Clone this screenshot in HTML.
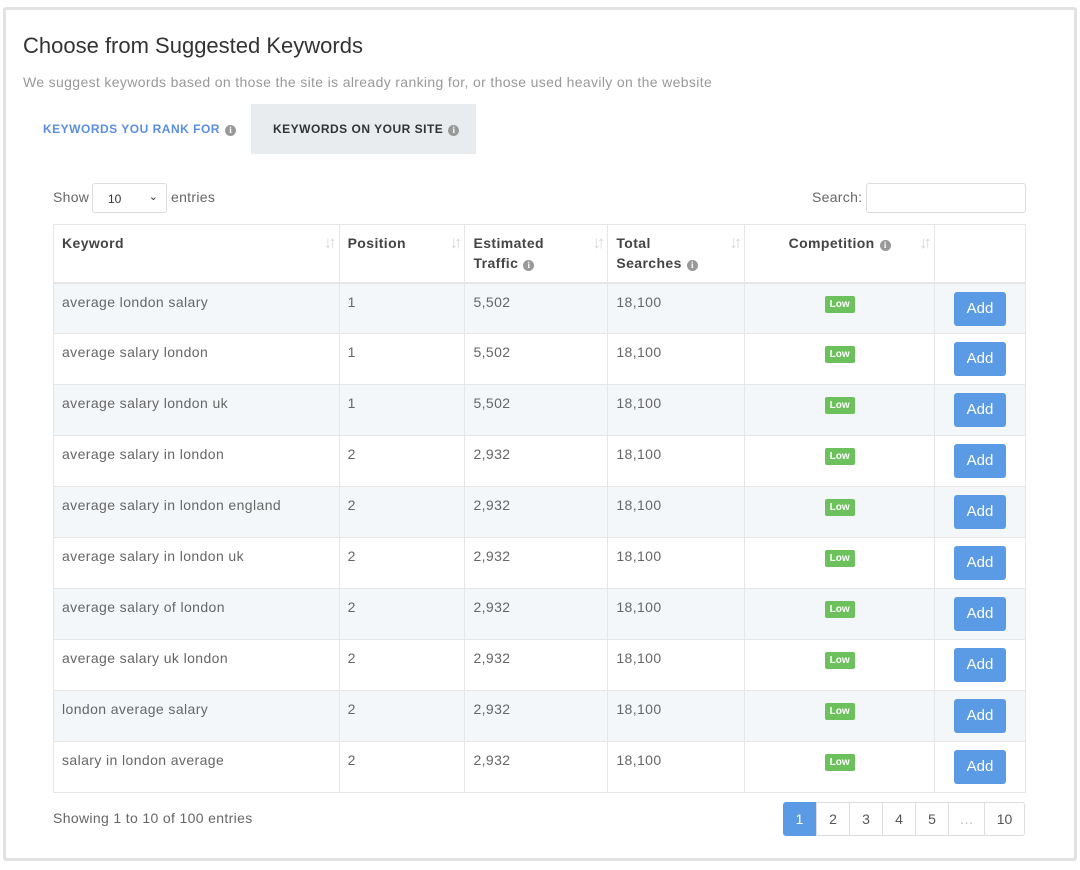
<!DOCTYPE html>
<html><head><meta charset="utf-8"><style>
*{box-sizing:border-box;margin:0;padding:0}
body{width:1080px;height:870px;background:#fff;font-family:"Liberation Sans",Arial,sans-serif;color:#555;position:relative;overflow:hidden}
.card{position:absolute;left:3px;top:7px;width:1074px;height:854px;border:3px solid #e2e2e2;border-radius:3px}
.abs{position:absolute;white-space:nowrap}
.info{display:inline-block;width:11px;height:11px;border-radius:50%;background:#999;color:#fff;font-size:9px;line-height:11px;text-align:center;font-weight:bold;vertical-align:0px;margin-left:5px;font-family:"Liberation Serif",serif;letter-spacing:0}
table{position:absolute;left:53px;top:224px;border-collapse:collapse;width:973px;font-size:14px;letter-spacing:0.4px}
td,th{border:1px solid #e6e6e6;text-align:left;vertical-align:top;padding:0 8px}
th{height:58px;padding-top:8px;font-weight:bold;color:#444;position:relative;line-height:20px;border-bottom:2px solid #e6e6e6}
td{height:51px;padding-top:10px;color:#666}
tr:nth-child(even) td{background:#f4f7fa}
.s{position:absolute;right:6px;top:8px;color:#d8d8d8;font-size:17px;font-weight:bold;letter-spacing:-4px}
.low{display:inline-block;background:#6cc15c;color:#fff;font-size:10px;font-weight:bold;padding:2px 5px;border-radius:2px;line-height:13px;letter-spacing:0}
.add{display:inline-block;background:#5b9be6;color:#fff;width:52px;height:34px;line-height:34px;text-align:center;border-radius:3px;font-size:15px;margin-top:-2px;letter-spacing:0}
.pg{position:absolute;top:802px;height:34px;border:1px solid #ddd;text-align:center;line-height:32px;font-size:14px;color:#555;margin-left:-1px}
</style></head><body>
<div class="card"></div>
<div class="abs" style="left:23px;top:33px;font-size:22px;color:#333">Choose from Suggested Keywords</div>
<div class="abs" style="left:23px;top:74px;font-size:14px;color:#999;letter-spacing:0.35px">We suggest keywords based on those the site is already ranking for, or those used heavily on the website</div>
<div class="abs" style="left:251px;top:104px;width:225px;height:50px;background:#e9ecef"></div>
<div class="abs" style="left:43px;top:122px;font-size:12px;font-weight:bold;color:#5b8fe0;letter-spacing:0.5px">KEYWORDS YOU RANK FOR<span class="info" style="background:#999">i</span></div>
<div class="abs" style="left:273px;top:122px;font-size:12px;font-weight:bold;color:#333;letter-spacing:0.5px">KEYWORDS ON YOUR SITE<span class="info">i</span></div>
<div class="abs" style="left:53px;top:189px;font-size:14px;color:#666;letter-spacing:0.3px">Show</div>
<div class="abs" style="left:92px;top:183px;width:75px;height:30px;border:1px solid #ddd;border-radius:3px;font-size:12px;color:#333;padding:8px 0 0 15px">10<span style="position:absolute;right:8px;top:6px;font-size:11px">&#8964;</span></div>
<div class="abs" style="left:171px;top:189px;font-size:14px;color:#666;letter-spacing:0.3px">entries</div>
<div class="abs" style="left:812px;top:189px;font-size:14px;color:#666;letter-spacing:0.3px">Search:</div>
<div class="abs" style="left:866px;top:183px;width:160px;height:30px;border:1px solid #ddd;border-radius:3px"></div>
<table>
<tr><th style="width:286px">Keyword<span class="s">↓↑</span></th><th style="width:126px">Position<span class="s">↓↑</span></th><th style="width:143px">Estimated<br>Traffic<span class="info">i</span><span class="s">↓↑</span></th><th style="width:137px">Total<br>Searches<span class="info">i</span><span class="s">↓↑</span></th><th style="width:190px;text-align:center">Competition<span class="info">i</span><span class="s">↓↑</span></th><th style="width:91px"></th></tr>
<tr><td>average london salary</td><td>1</td><td>5,502</td><td>18,100</td><td style="text-align:center"><span class="low">Low</span></td><td style="text-align:center"><span class="add">Add</span></td></tr>
<tr><td>average salary london</td><td>1</td><td>5,502</td><td>18,100</td><td style="text-align:center"><span class="low">Low</span></td><td style="text-align:center"><span class="add">Add</span></td></tr>
<tr><td>average salary london uk</td><td>1</td><td>5,502</td><td>18,100</td><td style="text-align:center"><span class="low">Low</span></td><td style="text-align:center"><span class="add">Add</span></td></tr>
<tr><td>average salary in london</td><td>2</td><td>2,932</td><td>18,100</td><td style="text-align:center"><span class="low">Low</span></td><td style="text-align:center"><span class="add">Add</span></td></tr>
<tr><td>average salary in london england</td><td>2</td><td>2,932</td><td>18,100</td><td style="text-align:center"><span class="low">Low</span></td><td style="text-align:center"><span class="add">Add</span></td></tr>
<tr><td>average salary in london uk</td><td>2</td><td>2,932</td><td>18,100</td><td style="text-align:center"><span class="low">Low</span></td><td style="text-align:center"><span class="add">Add</span></td></tr>
<tr><td>average salary of london</td><td>2</td><td>2,932</td><td>18,100</td><td style="text-align:center"><span class="low">Low</span></td><td style="text-align:center"><span class="add">Add</span></td></tr>
<tr><td>average salary uk london</td><td>2</td><td>2,932</td><td>18,100</td><td style="text-align:center"><span class="low">Low</span></td><td style="text-align:center"><span class="add">Add</span></td></tr>
<tr><td>london average salary</td><td>2</td><td>2,932</td><td>18,100</td><td style="text-align:center"><span class="low">Low</span></td><td style="text-align:center"><span class="add">Add</span></td></tr>
<tr><td>salary in london average</td><td>2</td><td>2,932</td><td>18,100</td><td style="text-align:center"><span class="low">Low</span></td><td style="text-align:center"><span class="add">Add</span></td></tr>
</table>
<div class="abs" style="left:53px;top:810px;font-size:14px;color:#666;letter-spacing:0.35px">Showing 1 to 10 of 100 entries</div>
<div class="pg" style="left:784px;width:33px;background:#5b9be6;border-color:#5b9be6;color:#fff;border-radius:3px 0 0 3px">1</div>
<div class="pg" style="left:817px;width:34px">2</div>
<div class="pg" style="left:850px;width:34px">3</div>
<div class="pg" style="left:883px;width:34px">4</div>
<div class="pg" style="left:916px;width:34px">5</div>
<div class="pg" style="left:949px;width:37px;color:#bbb">…</div>
<div class="pg" style="left:985px;width:41px;border-radius:0 3px 3px 0">10</div>
</body></html>
